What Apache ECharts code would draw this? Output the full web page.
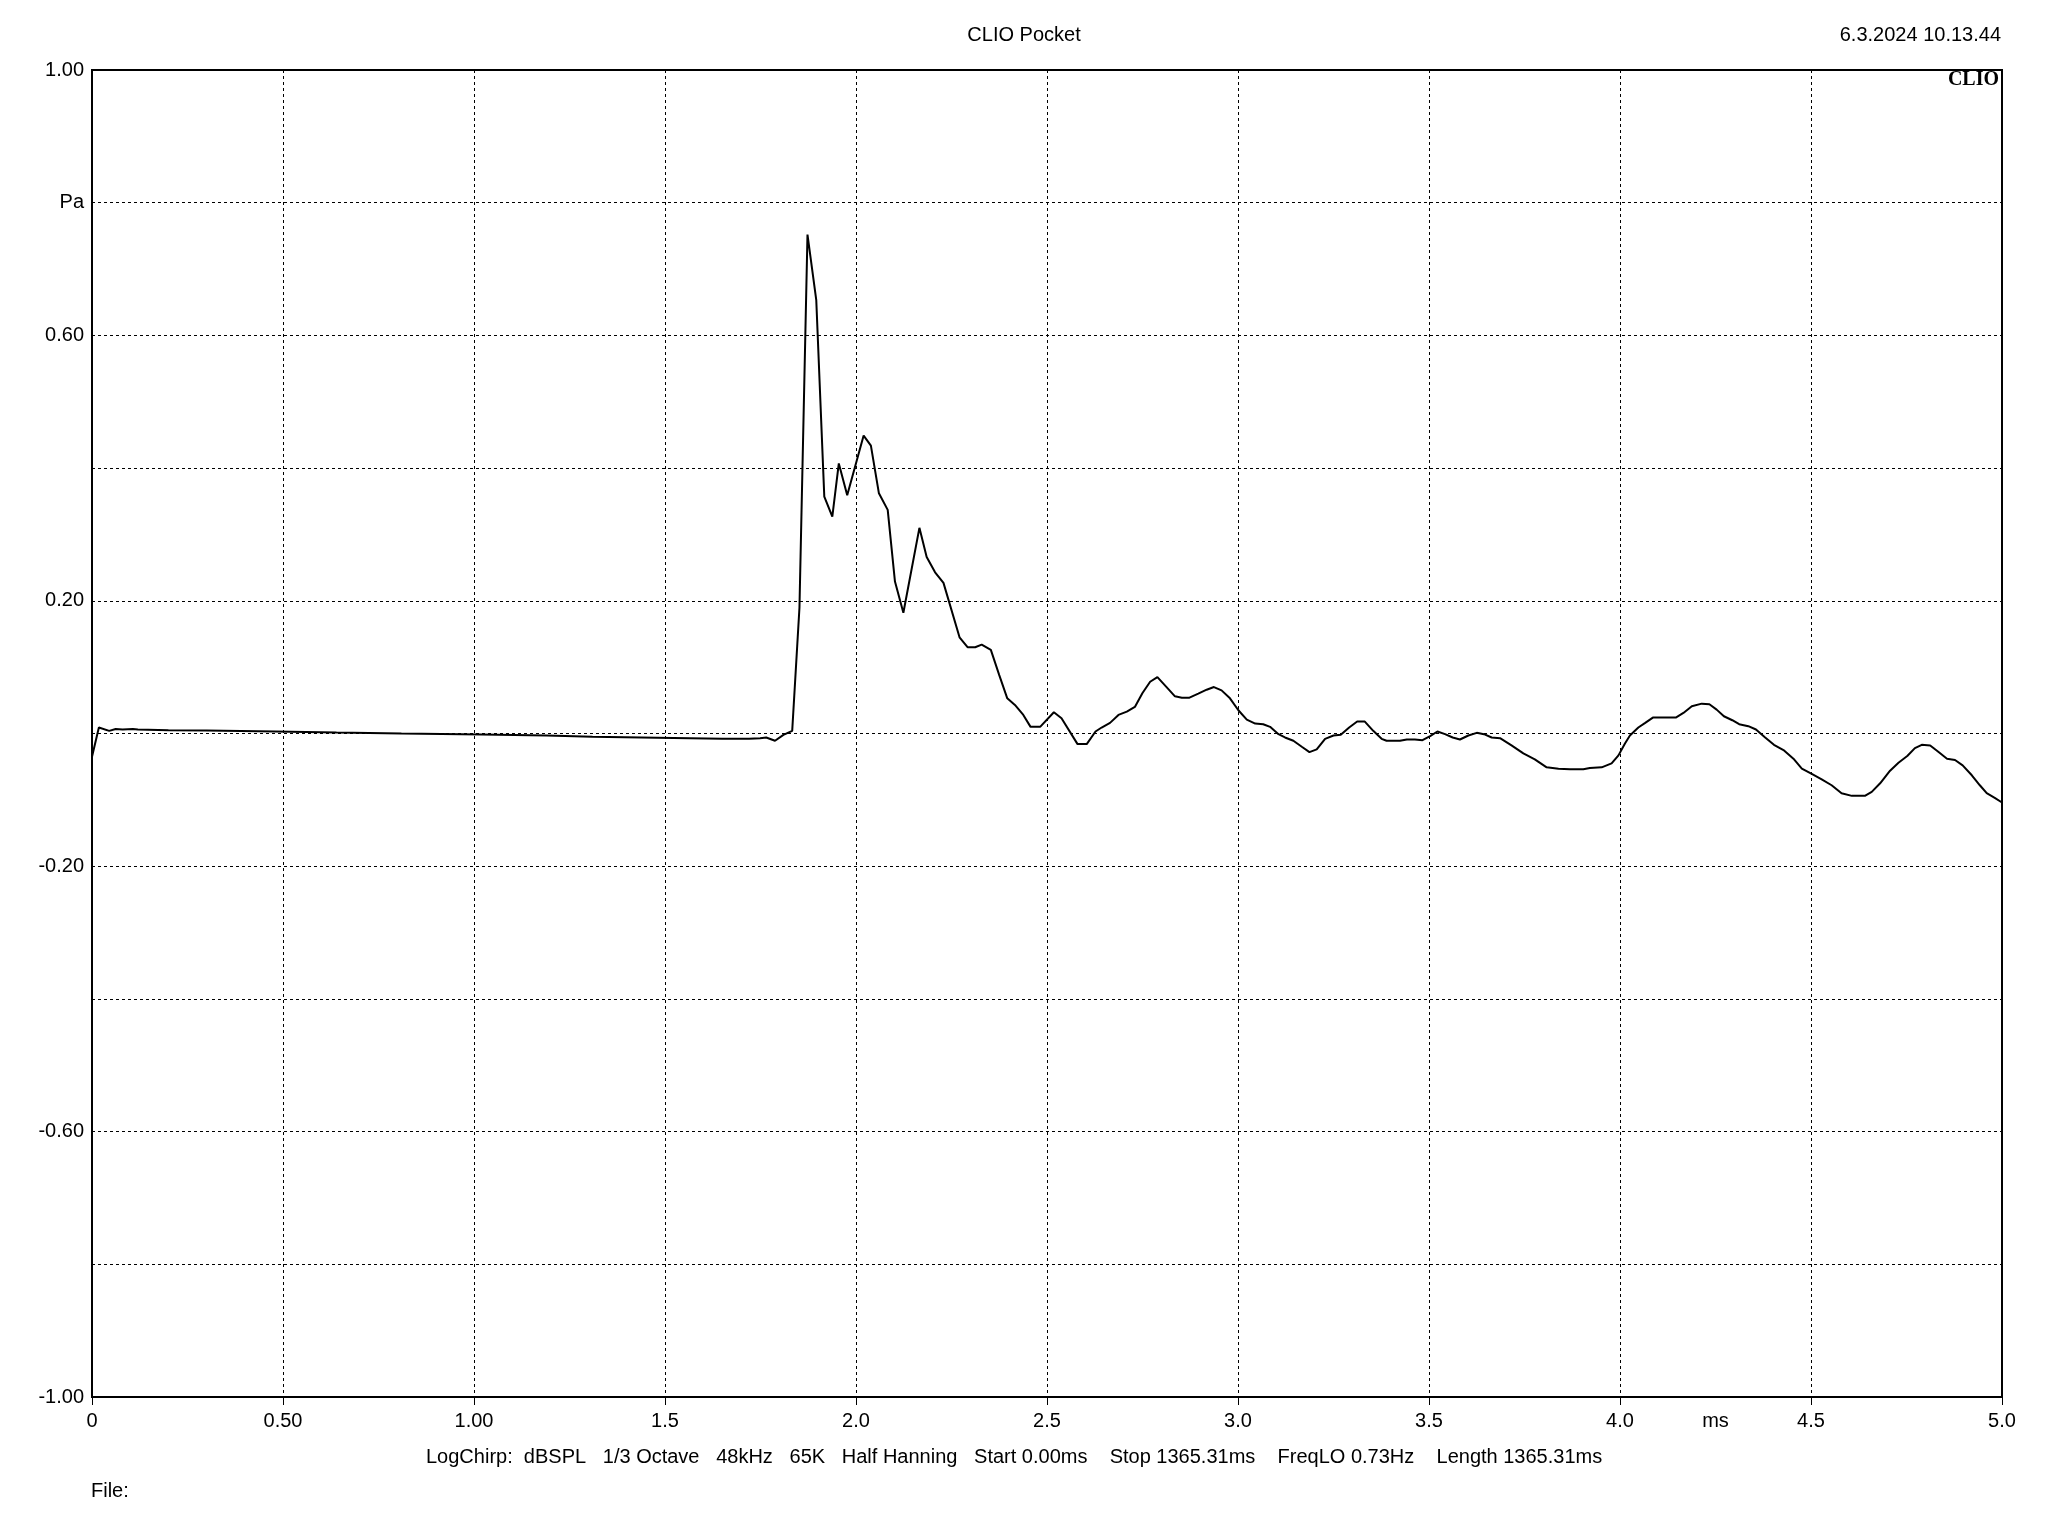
<!DOCTYPE html>
<html>
<head>
<meta charset="utf-8">
<script src="https://cdn.jsdelivr.net/npm/echarts@6/dist/echarts.min.js"></script>
<style>
  html, body { margin: 0; padding: 0; background: #fff; }
  #chart { width: 2048px; height: 1536px; }
</style>
</head>
<body>
<div id="chart"></div>
<script>
// ---- Data (time in ms, amplitude in Pa) ----
const timeMs = [
  0, 0.018, 0.045, 0.062, 0.08, 0.107, 0.12, 0.2, 0.3, 0.48, 0.64, 0.81, 1.02, 1.19, 1.31, 1.48, 1.65,
  1.72, 1.749, 1.765, 1.788, 1.81, 1.833, 1.852, 1.873, 1.896, 1.917, 1.938, 1.955, 1.977, 2.02, 2.039,
  2.06, 2.083, 2.102, 2.124, 2.166, 2.185, 2.207, 2.229, 2.271, 2.292, 2.312, 2.329, 2.353, 2.375,
  2.396, 2.416, 2.438, 2.457, 2.482, 2.518, 2.538, 2.58, 2.604, 2.627, 2.643, 2.665, 2.687, 2.709,
  2.73, 2.75, 2.77, 2.789, 2.813, 2.835, 2.853, 2.873, 2.896, 2.918, 2.937, 2.957, 2.979, 3.001,
  3.023, 3.045, 3.066, 3.084, 3.106, 3.123, 3.145, 3.167, 3.187, 3.206, 3.228, 3.25, 3.269, 3.291,
  3.312, 3.332, 3.354, 3.376, 3.389, 3.424, 3.442, 3.463, 3.483, 3.503, 3.522, 3.542, 3.562, 3.581,
  3.603, 3.625, 3.644, 3.664, 3.686, 3.716, 3.747, 3.777, 3.808, 3.839, 3.869, 3.904, 3.921, 3.952,
  3.978, 3.996, 4.013, 4.026, 4.048, 4.066, 4.086, 4.113, 4.146, 4.166, 4.188, 4.214, 4.234, 4.253,
  4.272, 4.294, 4.312, 4.336, 4.356, 4.38, 4.403, 4.428, 4.454, 4.476, 4.502, 4.528, 4.554, 4.58,
  4.607, 4.641, 4.659, 4.681, 4.707, 4.729, 4.752, 4.772, 4.79, 4.812, 4.834, 4.856, 4.877, 4.897,
  4.921, 4.942, 4.96, 4.981, 5.0
];
const amplitudePa = [
  -0.035, 0.009, 0.004, 0.0068, 0.006, 0.0068, 0.006, 0.005, 0.0045, 0.003, 0.0015, 0.0, -0.0015, -0.003, -0.005, -0.0065, -0.008,
  -0.008, -0.007, -0.006, -0.011, -0.002, 0.004, 0.19, 0.752, 0.653, 0.357, 0.327, 0.407, 0.359, 0.449, 0.434,
  0.362, 0.337, 0.229, 0.182, 0.31, 0.266, 0.243, 0.227, 0.145, 0.13, 0.13, 0.134, 0.126, 0.088,
  0.053, 0.043, 0.028, 0.01, 0.01, 0.032, 0.023, -0.016, -0.016, 0.003, 0.009, 0.016, 0.028, 0.033,
  0.04, 0.061, 0.078, 0.085, 0.07, 0.056, 0.054, 0.054, 0.06, 0.066, 0.07, 0.065, 0.053, 0.035,
  0.021, 0.015, 0.014, 0.01, -0.001, -0.006, -0.011, -0.02, -0.028, -0.024, -0.008, -0.003, -0.002, 0.009,
  0.018, 0.018, 0.004, -0.008, -0.011, -0.011, -0.009, -0.009, -0.01, -0.004, 0.003, -0.001, -0.006, -0.009,
  -0.003, 0.001, -0.001, -0.006, -0.007, -0.018, -0.03, -0.039, -0.051, -0.053, -0.054, -0.054, -0.052, -0.051,
  -0.045, -0.033, -0.015, -0.003, 0.009, 0.016, 0.024, 0.024, 0.024, 0.031, 0.041, 0.045, 0.044, 0.036,
  0.026, 0.02, 0.014, 0.011, 0.006, -0.006, -0.017, -0.025, -0.038, -0.053, -0.061, -0.069, -0.078, -0.09,
  -0.094, -0.094, -0.088, -0.075, -0.056, -0.044, -0.034, -0.022, -0.017, -0.018, -0.028, -0.038, -0.04, -0.048,
  -0.063, -0.078, -0.09, -0.097, -0.104
];

// ---- Tick labels ----
const xTickValues = [0, 0.5, 1, 1.5, 2, 2.5, 3, 3.5, 4, 4.5, 5];
const xTickLabels = ['0', '0.50', '1.00', '1.5', '2.0', '2.5', '3.0', '3.5', '4.0', '4.5', '5.0'];
const xUnitLabel = 'ms';
const xUnitAt = 4.25;
const yTickValues = [1, 0.8, 0.6, 0.2, -0.2, -0.6, -1];
const yTickLabels = ['1.00', 'Pa', '0.60', '0.20', '-0.20', '-0.60', '-1.00'];

const titleText = 'CLIO Pocket';
const dateText = '6.3.2024 10.13.44';
const brandText = 'CLIO';
const infoText = 'LogChirp:  dBSPL   1/3 Octave   48kHz   65K   Half Hanning   Start 0.00ms    Stop 1365.31ms    FreqLO 0.73Hz    Length 1365.31ms';
const fileText = 'File:';

const FONT = '"Liberation Sans", Arial, sans-serif';

function lookup(values, labels, v) {
  const r = Math.round(v * 100) / 100;
  for (let i = 0; i < values.length; i++) {
    if (Math.abs(values[i] - r) < 1e-6) return labels[i];
  }
  return '';
}

const seriesData = timeMs.map((t, i) => [t, amplitudePa[i]]);

const chart = echarts.init(document.getElementById('chart'), null, { renderer: 'canvas' });

const option = {
  animation: false,
  backgroundColor: '#ffffff',
  grid: {
    left: 92, top: 70, width: 1910, height: 1327,
    show: true, borderColor: '#000', borderWidth: 2, backgroundColor: 'transparent'
  },
  xAxis: {
    type: 'value', min: 0, max: 5, interval: 0.5,
    axisLine: { show: true, onZero: false, lineStyle: { color: '#000', width: 2 } },
    axisTick: { show: true, length: 8, lineStyle: { color: '#000', width: 1 } },
    axisLabel: {
      color: '#000', fontFamily: FONT, fontSize: 20, margin: 14,
      showMinLabel: true, showMaxLabel: true,
      formatter: v => lookup(xTickValues, xTickLabels, v)
    },
    splitLine: { show: true, lineStyle: { color: '#000', width: 1, type: [3, 3] } }
  },
  yAxis: {
    type: 'value', min: -1, max: 1, interval: 0.2,
    axisLine: { show: true, onZero: false, lineStyle: { color: '#000', width: 2 } },
    axisTick: { show: false },
    axisLabel: {
      color: '#000', fontFamily: FONT, fontSize: 20, margin: 8,
      showMinLabel: true, showMaxLabel: true,
      formatter: v => lookup(yTickValues, yTickLabels, v)
    },
    splitLine: { show: true, lineStyle: { color: '#000', width: 1, type: [3, 3] } }
  },
  series: [{
    type: 'line',
    data: seriesData,
    showSymbol: false,
    symbol: 'none',
    clip: false,
    lineStyle: { color: '#000', width: 2 },
    z: 5
  }]
};

chart.setOption(option);

// "ms" unit label placed among the x tick labels at its axis value
const msX = chart.convertToPixel({ xAxisIndex: 0 }, xUnitAt);
chart.setOption({
  graphic: [
    { id: 'title', type: 'text', left: 'center', top: 25,
      style: { text: titleText, fill: '#000', font: '20px ' + FONT } },
    { id: 'date', type: 'text', right: 47, top: 25,
      style: { text: dateText, fill: '#000', font: '20px ' + FONT } },
    { id: 'brand', type: 'text', right: 49, top: 70,
      style: { text: brandText, fill: '#000', font: 'bold 20px "Liberation Serif", "DejaVu Serif", serif' } },
    { id: 'info', type: 'text', left: 426, top: 1447,
      style: { text: infoText, fill: '#000', font: '20px ' + FONT } },
    { id: 'file', type: 'text', left: 91, top: 1481,
      style: { text: fileText, fill: '#000', font: '20px ' + FONT } },
    { id: 'unit', type: 'text', x: msX, y: 1411,
      style: { text: xUnitLabel, fill: '#000', font: '20px ' + FONT, align: 'center' } }
  ]
});
</script>
</body>
</html>
